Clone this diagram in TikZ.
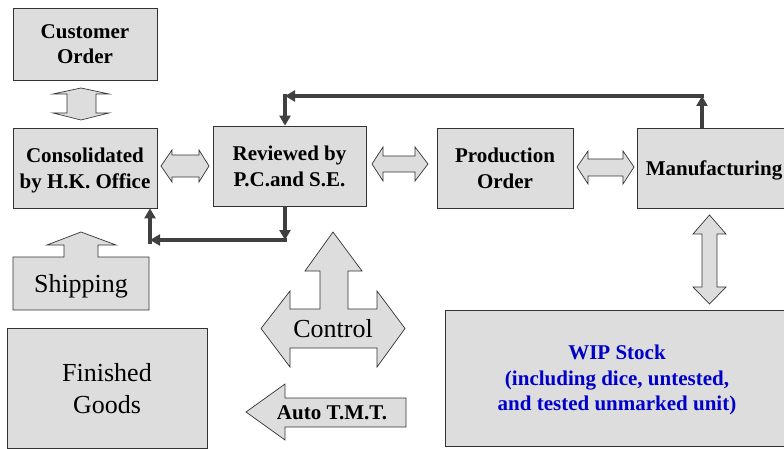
\documentclass[tikz,border=0pt]{standalone}
\usepackage{fontspec}
\setmainfont{Liberation Serif}
\usetikzlibrary{arrows.meta}

\definecolor{boxgray}{HTML}{DDDDDD}
\definecolor{edgegray}{HTML}{333333}
\definecolor{flowgray}{HTML}{404040}
\definecolor{wipblue}{HTML}{0000C8}

\tikzset{
  boldtext/.style={font=\fontsize{21}{25.5}\selectfont\bfseries},
  plaintext/.style={font=\fontsize{26}{32}\selectfont},
  box/.style={draw=edgegray, fill=boxgray, line width=0.8pt, inner sep=0pt,
              align=center, boldtext, text depth=0pt},
  hollow/.style={draw=edgegray, fill=boxgray, line width=0.7pt, line join=miter},
  flow/.style={draw=flowgray, line width=3.5pt,
               -{Triangle[length=10pt,width=11pt]}},
}

\begin{document}
\begin{tikzpicture}[x=1pt, y=-1pt]
\useasboundingbox (0,0) rectangle (784,449);

% ---- main process boxes ----
\node[box, minimum width=144, minimum height=72] (cust) at (85,44)
  {Customer\\Order};
\node[box, minimum width=144, minimum height=80] (cons) at (85,168)
  {Consolidated\\by H.K. Office};
\node[box, minimum width=153, minimum height=80] (rev) at (289.5,166)
  {Reviewed by\\P.C.and S.E.};
\node[box, minimum width=136, minimum height=80] (prod) at (505,168)
  {Production\\Order};
\node[box, minimum width=154, minimum height=80] (manu) at (714,168)
  {Manufacturing};
\node[box, minimum width=344, minimum height=136, text=wipblue] (wip) at (617,378)
  {WIP Stock\\(including dice, untested,\\and tested unmarked unit)};
\node[box, plaintext, minimum width=200, minimum height=120] (fin) at (107,388)
  {Finished\\Goods};

% ---- hollow two-way arrows between boxes ----
\draw[hollow] (81,88) -- (109,94) -- (96,94) -- (96,113) -- (109,113) -- (81,120)
  -- (53,113) -- (67,113) -- (67,94) -- (53,94) -- cycle;
\draw[hollow] (161,166) -- (172,150) -- (172,155) -- (199,155) -- (199,150)
  -- (209,166) -- (199,182) -- (199,177) -- (172,177) -- (172,182) -- cycle;
\draw[hollow] (372,164) -- (383,147) -- (383,156) -- (415,156) -- (415,147)
  -- (428,164) -- (415,181) -- (415,172) -- (383,172) -- (383,181) -- cycle;
\draw[hollow] (577,167) -- (588,151) -- (588,159) -- (623,159) -- (623,151)
  -- (634,167) -- (623,184) -- (623,176) -- (588,176) -- (588,184) -- cycle;
\draw[hollow] (709.5,215) -- (726,234) -- (717,234) -- (717,287) -- (726,287)
  -- (709.5,304) -- (693,287) -- (702,287) -- (702,234) -- (693,234) -- cycle;

% ---- shipping callout ----
\draw[hollow] (81,232) -- (116,245) -- (98,245) -- (98,257) -- (149,257)
  -- (149,310) -- (13,310) -- (13,257) -- (64,257) -- (64,245) -- (47,245) -- cycle;
\node[plaintext, anchor=base] (ship) at (81,292) {Shipping};

% ---- control three-way arrow ----
\draw[hollow] (333,232) -- (362,271) -- (348,271) -- (348,309) -- (377,309)
  -- (377,291) -- (405,328.5) -- (377,367) -- (377,348) -- (290,348)
  -- (290,367) -- (261,328.5) -- (290,291) -- (290,309) -- (320,309)
  -- (320,271) -- (305,271) -- cycle;
\node[plaintext, anchor=base] (ctrl) at (333,337) {Control};

% ---- Auto T.M.T. callout ----
\draw[hollow] (246,412) -- (285,384) -- (285,398) -- (406,398) -- (406,427)
  -- (285,427) -- (285,440) -- cycle;
\node[boldtext, anchor=base] (tmt) at (332,419) {Auto T.M.T.};

% ---- feedback routes ----
\coordinate (tr) at (702,96);
\coordinate (tl) at (285,96);
\coordinate (trx) at (703.75,96);
\coordinate (tly) at (285,94.25);
\draw[flow] (tr |- manu.north) -- (tr);
\draw[flow] (trx) -- (tl);
\draw[flow] (tly) -- (tl |- rev.north);

\coordinate (rb) at (285,240);
\coordinate (lb) at (150,240);
\coordinate (rbx) at (286.75,240);
\coordinate (lby) at (150,244);
\draw[flow] (rb |- rev.south) -- (rb);
\draw[flow] (rbx) -- (lb);
\draw[flow] (lby) -- (lb |- cons.south);
\end{tikzpicture}
\end{document}
